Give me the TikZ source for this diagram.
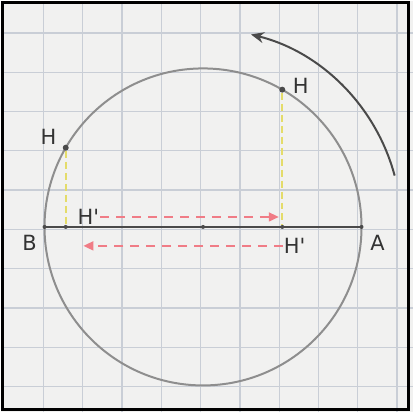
\documentclass[tikz,border=0pt]{standalone}
\usepackage{fontspec}
\setsansfont{DejaVu Sans}
\usetikzlibrary{arrows.meta}
\definecolor{paper}{HTML}{F1F1F0}
\definecolor{gridblue}{HTML}{C9CED6}
\definecolor{pencil}{HTML}{8E8E8E}
\definecolor{lead}{HTML}{4A4A4A}
\definecolor{hiyellow}{HTML}{E4DC6A}
\definecolor{hipink}{HTML}{F07C86}
\tikzset{
  lbl/.style={font=\sffamily\fontsize{21}{21}\selectfont, text=black!80, inner sep=1pt},
  dot/.style={circle, fill=lead, inner sep=0pt, minimum size=6pt},
  pin/.style={circle, fill=lead, inner sep=0pt, minimum size=4pt},
  proj/.style={dash pattern=on 7pt off 4pt, color=hiyellow, line width=1.6pt},
  mov/.style={-{Triangle[length=10pt,width=9pt]}, dash pattern=on 9pt off 7pt, color=hipink, line width=1.7pt},
  turn/.style={-{Stealth[length=13pt,width=11pt]}, color=lead, line width=2pt},
}

\begin{document}
\begin{tikzpicture}[x=1pt,y=1pt]
  % squared paper
  \fill[paper] (0,0) rectangle (414,413);
  \foreach \k in {0,...,9} {
    \draw[gridblue, line width=1.3pt] ({43+39.4*\k},0) -- ({43+39.4*\k},413);
    \draw[gridblue, line width=1.3pt] (0,{26+39.4*\k}) -- (414,{26+39.4*\k});
  }
  \draw[black, line width=3pt] (2,3) rectangle (409,411);

  % circle and diameter
  \coordinate (O) at (203,186);
  \path (O) ++(0:159) coordinate (A) ++(180:318) coordinate (B);
  \draw[pencil, line width=2pt] (O) circle[radius=159];
  \draw[lead, line width=1.6pt] (B) -- (A);
  \node[pin] (o) at (O) {};
  \node[pin] (a) at (A) {};
  \node[pin] (b) at (B) {};

  % moving point and its projections
  \path (O) ++(60:159) node[dot] (M) {};
  \path (O) ++(150:159) node[dot] (N) {};
  \node[pin] (Mp) at (M |- O) {};
  \node[pin] (Np) at (N |- O) {};
  \draw[proj] (M) -- (Mp);
  \draw[proj] (N) -- (Np);

  % sense of rotation
  \path (O) ++(15:199) coordinate (rotA);
  \draw[turn] (rotA) arc[start angle=15, end angle=76, radius=199];

  % labels
  \node[lbl] (lM) at (301,328) {H};
  \node[lbl] (lN) at (48,276) {H};
  \node[lbl] (lHa) at (88,196) {H\textquotesingle};
  \node[lbl] (lHb) at (295,167) {H\textquotesingle};
  \node[lbl] (lB) at (29,170) {B};
  \node[lbl] (lA) at (378,170) {A};

  % back and forth
  \coordinate (goR) at (279,196);
  \coordinate (goL) at (83,167);
  \draw[mov] (lHa.east) -- (goR);
  \draw[mov] (lHb.west) -- (goL);
\end{tikzpicture}
\end{document}
